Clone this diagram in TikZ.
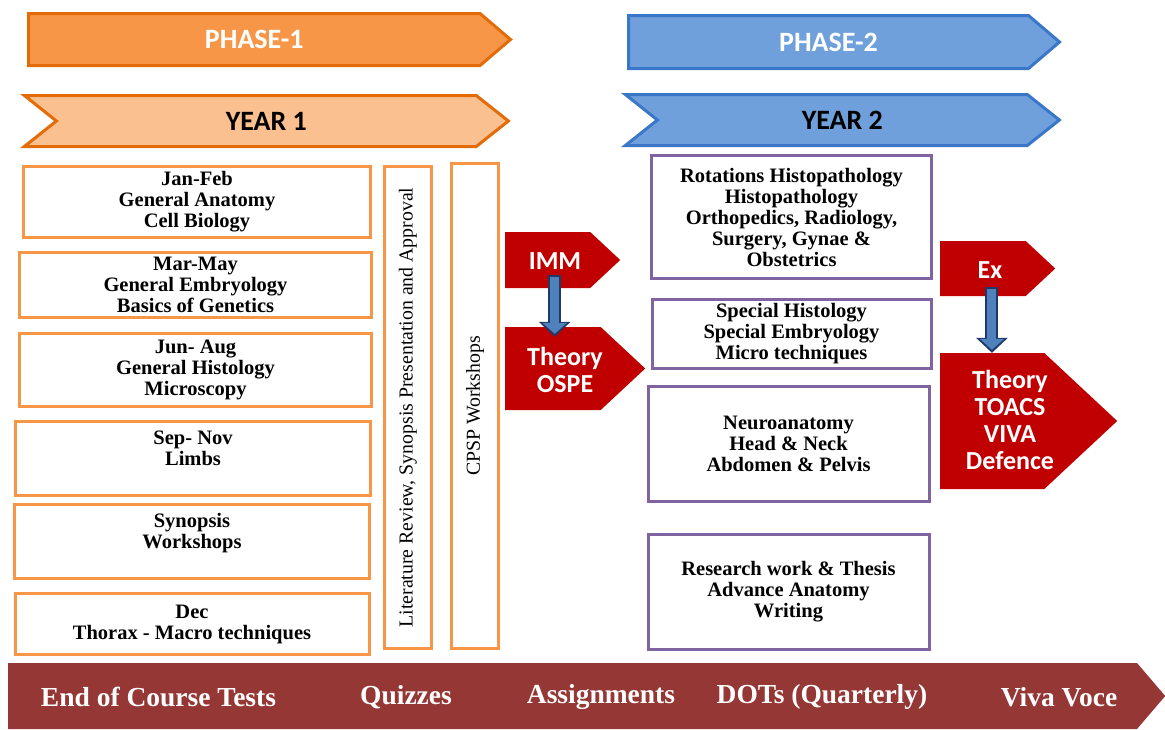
\documentclass[tikz,border=0pt]{standalone}
\usepackage{fontspec}
\setmainfont{Liberation Serif}
\newfontfamily\calibfont{Carlito}
\usetikzlibrary{shapes.symbols, arrows.meta, positioning}

\definecolor{phaseorange}{HTML}{F79646}
\definecolor{orangeline}{HTML}{E36C09}
\definecolor{yearorange}{HTML}{FAC090}
\definecolor{phaseblue}{HTML}{6FA0DC}
\definecolor{blueline}{HTML}{3A77C8}
\definecolor{boxorange}{HTML}{F79646}
\definecolor{boxpurple}{HTML}{8064A2}
\definecolor{examred}{HTML}{C00000}
\definecolor{bannerred}{HTML}{953735}
\definecolor{arrowfill}{HTML}{4F81BD}
\definecolor{arrowdark}{HTML}{1F3864}

\tikzset{
  bar/.style={signal, signal to=east, line width=3pt, inner sep=0pt,
    font=\calibfont\bfseries\fontsize{28}{30}\selectfont},
  monthbox/.style={draw=boxorange, line width=3pt, align=center, inner sep=0pt,
    font=\bfseries\fontsize{20.5}{21}\selectfont},
  sidebox/.style={draw=boxorange, line width=3pt, rotate=90, inner sep=0pt,
    minimum height=47pt, font=\fontsize{19.8}{21}\selectfont},
  topicbox/.style={draw=boxpurple, line width=3pt, align=center, inner sep=0pt,
    font=\bfseries\fontsize{20.5}{21}\selectfont},
  exam/.style={signal, signal to=east, fill=examred, inner sep=0pt, signal pointer angle=86},
  examtext/.style={text=white, align=center, inner sep=1pt,
    font=\calibfont\bfseries\fontsize{26}{27}\selectfont},
  assess/.style={text=white, font=\bfseries\fontsize{27.5}{29}\selectfont},
  fatarrow/.style={line width=13pt, draw=arrowdark, -{Triangle[length=15pt, width=31pt]}},
  fatarrowin/.style={line width=9pt, draw=arrowfill, -{Triangle[length=11pt, width=24pt]},
    shorten >=3pt, shorten <=1.5pt}
}

\begin{document}
\begin{tikzpicture}[x=1pt, y=-1pt, node distance=12pt]
    \useasboundingbox (0,0) rectangle (1165,729);

    % Phase and year banners
    \node[bar, fill=phaseorange, draw=orangeline, text=white, minimum width=482pt,
      minimum height=52pt, signal pointer angle=81, anchor=west] (phaseA) at (27,39.5) {PHASE-1};
    \node[bar, signal from=west, fill=yearorange, draw=orangeline, minimum width=484pt,
      minimum height=51pt, signal pointer angle=77, anchor=west] (yearA) at (54,121) {YEAR 1};
    \node[bar, fill=phaseblue, draw=blueline, text=white, minimum width=431pt,
      minimum height=53pt, signal pointer angle=81, anchor=west] (phaseB) at (627,42) {PHASE-2};
    \node[bar, signal from=west, fill=phaseblue, draw=blueline, minimum width=434pt,
      minimum height=51pt, signal pointer angle=77, anchor=west] (yearB) at (655,120) {YEAR 2};

    % Year 1 months
    \node[monthbox, minimum width=347pt, minimum height=71pt] (janfeb) at (197,202)
      {Jan-Feb\\General Anatomy\\Cell Biology};
    \node[monthbox, minimum width=352pt, minimum height=65pt, below=of janfeb, xshift=-1.5pt] (marmay)
      {Mar-May\\General Embryology\\Basics of Genetics};
    \node[monthbox, minimum width=352pt, minimum height=73pt, below=13pt of marmay] (junaug)
      {Jun- Aug\\General Histology\\Microscopy};
    \node[monthbox, minimum width=355pt, minimum height=74pt, below=of junaug, xshift=-2.5pt] (sepnov)
      {Sep- Nov\\Limbs\\\mbox{}};
    \node[monthbox, minimum width=355pt, minimum height=74pt, below=6pt of sepnov, xshift=-1pt] (synopsis)
      {Synopsis\\Workshops\\\mbox{}};
    \node[monthbox, minimum width=354pt, minimum height=61pt, below=of synopsis] (dec)
      {Dec\\Thorax - Macro techniques};

    % Long running activities
    \node[sidebox, minimum width=482pt] (litreview) at (408,407.5)
      {Literature Review, Synopsis Presentation and Approval};
    \node[sidebox, minimum width=485pt] (cpsp) at (475,406) {CPSP Workshops};

    % Year 1 exams
    \node[exam, minimum width=115pt, minimum height=56pt, anchor=west] (imm) at (505,260) {};
    \node[examtext] (immtext) at (555,261) {IMM};
    \node[exam, minimum width=140pt, minimum height=83pt, anchor=west] (ospe) at (505,368.5) {};
    \node[examtext] (ospetext) at (565,369.5) {Theory\\OSPE};

    % Year 2 topics
    \node[topicbox, minimum width=280pt, minimum height=123pt] (rotations) at (791.5,217)
      {Rotations Histopathology\\Histopathology\\Orthopedics, Radiology,\\Surgery, Gynae \&\\Obstetrics};
    \node[topicbox, minimum width=279pt, minimum height=69pt, below=18pt of rotations] (special)
      {Special Histology\\Special Embryology\\Micro techniques};
    \node[topicbox, minimum width=281pt, minimum height=115pt, below=15pt of special, xshift=-3pt] (neuro)
      {Neuroanatomy\\Head \& Neck\\Abdomen \& Pelvis};
    \node[topicbox, minimum width=281pt, minimum height=115pt, below=30pt of neuro] (research)
      {Research work \& Thesis\\Advance Anatomy\\Writing};

    % Year 2 exams
    \node[exam, minimum width=115pt, minimum height=55pt, anchor=west] (ex) at (940,268.5) {};
    \node[examtext] (extext) at (990,270) {Ex};
    \node[exam, minimum width=177pt, minimum height=136pt, anchor=west] (toacs) at (940,421) {};
    \node[examtext] (toacstext) at (1010,419.5) {Theory\\TOACS\\VIVA\\Defence};

    % Exam arrows
    \coordinate (immdrop) at ([xshift=7pt, yshift=13pt]imm.south);
    \path (immdrop |- ospe.north) ++(0,10) coordinate (ospehit);
    \draw[fatarrow] (immdrop) -- (ospehit);
    \draw[fatarrowin] (immdrop) -- (ospehit);
    \coordinate (exdrop) at ([xshift=9pt, yshift=9pt]ex.south);
    \coordinate (toacshit) at (exdrop |- toacs.north);
    \draw[fatarrow] (exdrop) -- (toacshit);
    \draw[fatarrowin] (exdrop) -- (toacshit);

    % Assessment banner
    \node[signal, signal to=east, fill=bannerred, inner sep=0pt, minimum width=1157pt,
      minimum height=66pt, signal pointer angle=99, anchor=west] (assessbar) at (8,696) {};
    \node[assess] (tests) at (158.5,697) {End of Course Tests};
    \node[assess] (quizzes) at (406,697) {Quizzes};
    \node[assess] (assign) at (601,697) {Assignments};
    \node[assess] (dots) at (822,697) {DOTs (Quarterly)};
    \node[assess] (viva) at (1059,697) {Viva Voce};
\end{tikzpicture}
\end{document}
